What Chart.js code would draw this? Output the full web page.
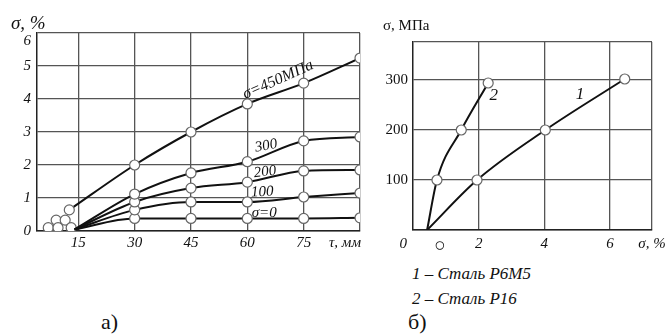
<!DOCTYPE html>
<html>
<head>
<meta charset="utf-8">
<script src="https://cdn.jsdelivr.net/npm/chart.js@4"></script>
<style>
  body { margin: 0; background: #fff; font-family: 'Liberation Serif', 'Times New Roman', serif; }
  #wrap { position: relative; width: 672px; height: 336px; overflow: hidden; }
  .box { position: absolute; top: 0; }
  .txt { position: absolute; color: #111; white-space: nowrap; line-height: 1; }
  .it { font-style: italic; }
</style>
</head>
<body>
<div id="wrap">
  <div class="box" style="left:0;"><canvas id="chartA" width="372" height="262"></canvas></div>
  <div class="box" style="left:378px;"><canvas id="chartB" width="294" height="262"></canvas></div>
  <span class="txt it" style="left:11px; top:13px; font-size:19px;">σ, %</span>
  <span class="txt" style="left:383px; top:18px; font-size:15px;">σ, МПа</span>
  <span class="txt it" style="left:412px; top:265px; font-size:17px;">1 – Сталь Р6М5</span>
  <span class="txt it" style="left:412px; top:290px; font-size:17px;">2 – Сталь Р16</span>
  <span class="txt" style="left:101px; top:311px; font-size:22px;">а)</span>
  <span class="txt" style="left:408px; top:311px; font-size:22px;">б)</span>
</div>
<script>
// chart а): deformation vs tau for several stresses
const tau = [14, 30, 45, 60, 75, 90];
const tau450 = [12.6, 30, 45, 60, 75, 90];
const strain450 = [0.64, 2.0, 3.0, 3.85, 4.48, 5.24];
const strain300 = [0.05, 1.12, 1.76, 2.1, 2.73, 2.85];
const strain200 = [0.05, 0.88, 1.3, 1.48, 1.82, 1.85];
const strain100 = [0.05, 0.64, 0.88, 0.88, 1.03, 1.15];
const strain0 = [0.05, 0.38, 0.38, 0.38, 0.38, 0.4];
const startTau = [7, 9.1, 9.6, 11.5, 13.1];
const startStrain = [0.1, 0.33, 0.1, 0.33, 0.1];
const curveNames = ['σ=450МПа', '300', '200', '100', 'σ=0'];
const tauTicks = [15, 30, 45, 60, 75, 86, 90];
const tauTickLabels = ['15', '30', '45', '60', '75', 'τ, мм', ''];
const strainTicks = [0, 1, 2, 3, 4, 5, 5.75, 6];
const strainTickLabels = ['0', '1', '2', '3', '4', '5', '6', ''];

// chart б): stress vs deformation for two steels
const strainP6M5 = [0.43, 1.95, 4.03, 6.45];
const stressP6M5 = [0, 100, 200, 302];
const strainP16 = [0.43, 0.73, 1.47, 2.29];
const stressP16 = [0, 100, 200, 294];
const steelNames = ['1', '2'];
const defTicks = [-0.3, 0.82, 2, 4, 6, 7.28];
const defTickLabels = ['0', '○', '2', '4', '6', 'σ, %'];
const stressTicks = [0, 100, 200, 300, 376];
const stressTickLabels = ['', '100', '200', '300', ''];

const serif = "'Liberation Serif', 'Times New Roman', serif";
const gridCol = '#555';
const lineCol = '#111';
const clear = 'rgba(0,0,0,0)';

function pts(xs, ys) { return xs.map((x, i) => ({ x: x, y: ys[i] })); }

function lineSet(xs, ys, firstHidden) {
  return {
    data: pts(xs, ys),
    borderColor: lineCol,
    borderWidth: 2,
    backgroundColor: '#fff',
    pointBackgroundColor: '#fff',
    pointBorderColor: '#666',
    pointBorderWidth: 1.2,
    pointRadius: xs.map((x, i) => (firstHidden && i === 0) ? 0 : 5),
    cubicInterpolationMode: 'monotone',
    showLine: true,
    fill: false
  };
}

// draws small italic labels next to curves, anchored in data coordinates
const curveLabels = {
  id: 'curveLabels',
  afterDatasetsDraw(chart, args, opts) {
    const c = chart.ctx;
    const xs = chart.scales.x, ys = chart.scales.y;
    c.save();
    c.fillStyle = '#111';
    c.textAlign = 'center';
    c.textBaseline = 'middle';
    opts.items.forEach(it => {
      c.save();
      c.translate(xs.getPixelForValue(it.x), ys.getPixelForValue(it.y));
      c.rotate((it.angle || 0) * Math.PI / 180);
      c.font = 'italic ' + (it.size || 15) + 'px ' + serif;
      c.fillText(it.text, 0, 0);
      c.restore();
    });
    c.restore();
  }
};

function fixedTicks(values) {
  return function (scale) { scale.ticks = values.map(v => ({ value: v })); };
}

new Chart(document.getElementById('chartA'), {
  type: 'scatter',
  data: {
    datasets: [
      lineSet(tau450, strain450, false),
      lineSet(tau, strain300, true),
      lineSet(tau, strain200, true),
      lineSet(tau, strain100, true),
      lineSet(tau, strain0, true),
      {
        data: pts(startTau, startStrain),
        showLine: false,
        pointRadius: 5,
        pointBackgroundColor: '#fff',
        pointBorderColor: '#666',
        pointBorderWidth: 1.2
      }
    ]
  },
  options: {
    responsive: false,
    animation: false,
    layout: { padding: { top: 33, right: 12, left: 0, bottom: 0 } },
    plugins: {
      legend: { display: false },
      tooltip: { enabled: false },
      curveLabels: {
        items: [
          { text: curveNames[0], x: 68.2, y: 4.58, angle: -24, size: 16 },
          { text: curveNames[1], x: 65, y: 2.58, angle: -10 },
          { text: curveNames[2], x: 64.7, y: 1.79, angle: -7 },
          { text: curveNames[3], x: 64, y: 1.18, angle: -3 },
          { text: curveNames[4], x: 64.5, y: 0.55, angle: 0 }
        ]
      }
    },
    scales: {
      x: {
        type: 'linear', min: 4, max: 90,
        afterBuildTicks: fixedTicks(tauTicks),
        afterFit: s => { s.height = 31; },
        grid: {
          drawTicks: false,
          color: c => (c.tick && c.tick.value === 86) ? clear : gridCol,
          lineWidth: 1.3
        },
        border: { color: '#222', width: 1.5 },
        ticks: {
          autoSkip: false, maxRotation: 0, padding: 3, color: '#111',
          font: { family: serif, size: 15, style: 'italic' },
          callback: (v, i) => tauTickLabels[i]
        }
      },
      y: {
        min: 0, max: 6,
        afterBuildTicks: fixedTicks(strainTicks),
        afterFit: s => { s.width = 37; },
        grid: {
          drawTicks: false,
          color: c => (c.tick && c.tick.value === 5.75) ? clear : gridCol,
          lineWidth: 1.3
        },
        border: { color: '#222', width: 1.5 },
        ticks: {
          autoSkip: false, padding: 6, color: '#111',
          font: { family: serif, size: 15, style: 'italic' },
          callback: (v, i) => strainTickLabels[i]
        }
      }
    }
  },
  plugins: [curveLabels]
});

new Chart(document.getElementById('chartB'), {
  type: 'scatter',
  data: {
    datasets: [
      lineSet(strainP6M5, stressP6M5, true),
      lineSet(strainP16, stressP16, true)
    ]
  },
  options: {
    responsive: false,
    animation: false,
    layout: { padding: { top: 42, right: 20, left: 0, bottom: 0 } },
    plugins: {
      legend: { display: false },
      tooltip: { enabled: false },
      curveLabels: {
        items: [
          { text: steelNames[0], x: 5.09, y: 270, size: 17 },
          { text: steelNames[1], x: 2.46, y: 268, size: 17 }
        ]
      }
    },
    scales: {
      x: {
        type: 'linear', min: 0, max: 7.28,
        afterBuildTicks: fixedTicks(defTicks),
        afterFit: s => { s.height = 32; },
        grid: {
          drawTicks: false,
          color: c => (c.tick && c.tick.value < 1) ? clear : gridCol,
          lineWidth: 1.3
        },
        border: { color: '#222', width: 1.5 },
        ticks: {
          autoSkip: false, maxRotation: 0, padding: 5, color: '#111',
          font: c => (c.tick && c.tick.value === 0.82)
            ? { family: serif, size: 19 }
            : { family: serif, size: 15, style: 'italic' },
          callback: (v, i) => defTickLabels[i]
        }
      },
      y: {
        min: 0, max: 376,
        afterBuildTicks: fixedTicks(stressTicks),
        afterFit: s => { s.width = 35; },
        grid: { drawTicks: false, color: gridCol, lineWidth: 1.3 },
        border: { color: '#222', width: 1.5 },
        ticks: {
          autoSkip: false, padding: 5, color: '#111',
          font: { family: serif, size: 15 },
          callback: (v, i) => stressTickLabels[i]
        }
      }
    }
  },
  plugins: [curveLabels]
});
</script>
</body>
</html>
